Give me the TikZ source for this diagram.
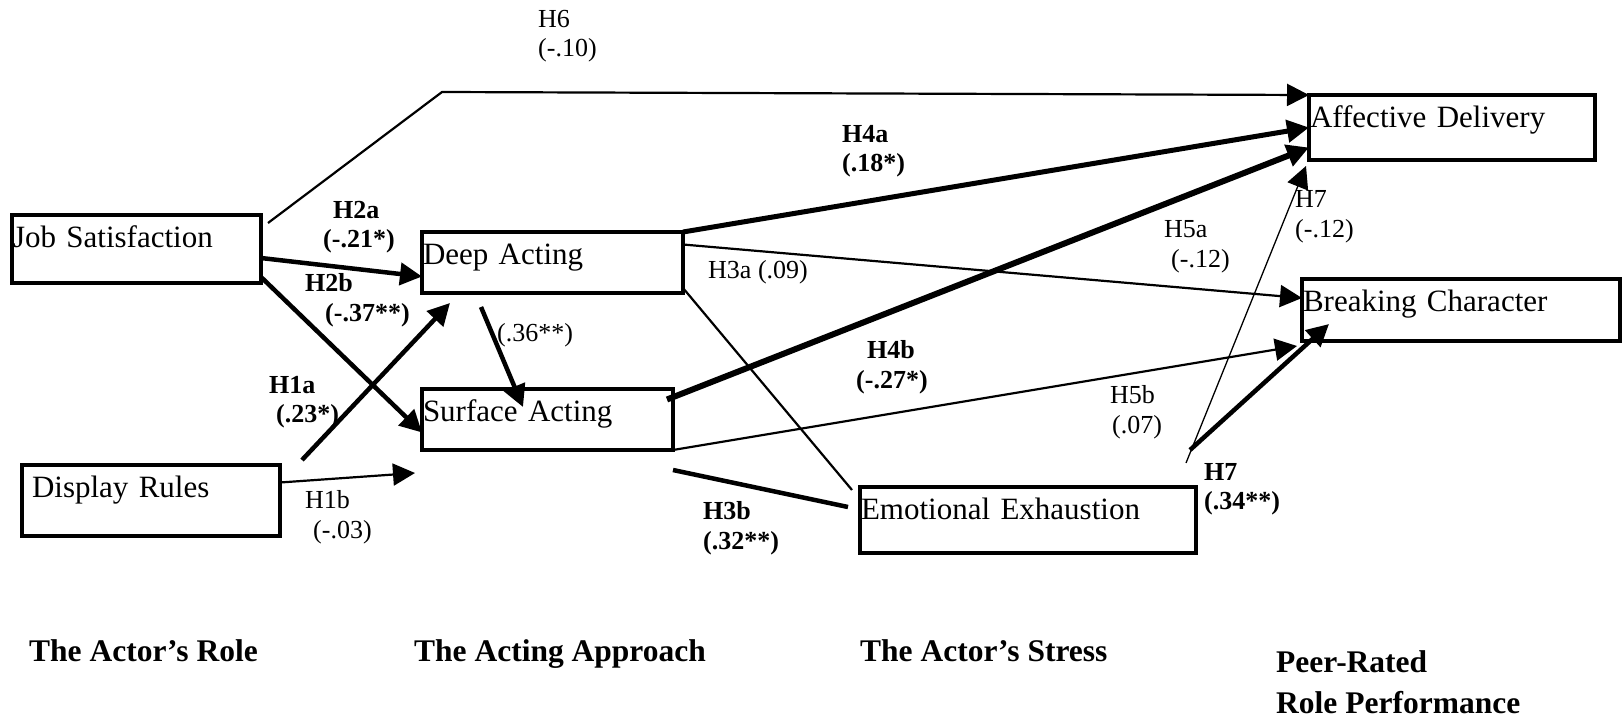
\documentclass[tikz,border=0pt]{standalone}
\usepackage{fontspec}
\setmainfont{Liberation Serif}
\usepackage{tikz}
\usetikzlibrary{arrows.meta, positioning}
\tikzset{
	construct/.style={draw, line width=4.5pt, anchor=north west, outer sep=0pt, inner xsep=1pt, inner ysep=6pt, align=left, text height=26pt, font=\fontsize{31}{34}\selectfont}
}
\tikzset{
	hyptext/.style={anchor=west, inner sep=0pt, align=left, font=\fontsize{26}{29.5}\selectfont}
}
\tikzset{
	boldhyp/.style={hyptext, font=\fontsize{26}{29.5}\selectfont\bfseries}
}
\tikzset{
	headtext/.style={anchor=base west, inner sep=0pt, align=left, font=\fontsize{31.5}{41}\selectfont\bfseries}
}
\tikzset{
	weakpath/.style={line width=2.2pt},
	strongpath/.style={line width=4.5pt}
}

\begin{document}
\begin{tikzpicture}[x=1pt, y=-1pt, >={Triangle[length=22pt, width=22pt]}]
  \useasboundingbox (0,0) rectangle (1623,720);
  \node[construct, text width=247pt, text depth=30pt] (js) at (12,215) {Job Satisfaction};
  \node[construct, inner xsep=10pt, text width=238pt, text depth=33pt] (dr) at (22,465) {Display Rules};
  \node[construct, text width=259pt, text depth=23pt] (da) at (422,232) {Deep Acting};
  \node[construct, text width=249pt, text depth=23pt] (sa) at (422,389) {Surface Acting};
  \node[construct, text width=284pt, text depth=27pt] (ad) at (1309,95) {Affective Delivery};
  \node[construct, text width=316pt, text depth=24pt] (bc) at (1302,279) {Breaking Character};
  \node[construct, text width=334pt, text depth=28pt] (ee) at (860,487) {Emotional Exhaustion};
  \coordinate (h6bend) at (442,92);
  \coordinate (h1bend) at (415,473);
  \coordinate (h7src) at (1190,450);
  \draw[weakpath, ->] ([shift={(7,8)}]js.north east) -- (h6bend) -- (ad.north west);
  \draw[strongpath, ->] ([shift={(0,9)}]js.east) -- ([shift={(0,14)}]da.west);
  \draw[strongpath, ->] ([shift={(0,-6)}]js.south east) -- ([shift={(0,13)}]sa.west);
  \draw[strongpath, ->] ([shift={(22,-5)}]dr.north east) -- ([shift={(28,10)}]da.south west);
  \draw[weakpath, ->] ([shift={(0,-18)}]dr.east) -- (h1bend);
  \draw[strongpath, ->] ([shift={(59,14)}]da.south west) -- ([shift={(101,18)}]sa.north west);
  \draw[strongpath, line width=5pt, ->] (da.north east) -- (ad.west);
  \draw[weakpath, ->] ([shift={(0,-18)}]da.east) -- ([shift={(0,-12)}]bc.west);
  \draw[weakpath] ([shift={(0,-5)}]da.south east) -- ([shift={(-8,3)}]ee.north west);
  \draw[strongpath, line width=6pt, ->] ([shift={(-6,-20)}]sa.east) -- ([shift={(0,20)}]ad.west);
  \draw[weakpath, ->] (sa.south east) -- ([shift={(-5,5)}]bc.south west);
  \draw[strongpath] ([shift={(0,20)}]sa.south east) -- ([shift={(-12,-13)}]ee.west);
  \draw[strongpath, ->] (h7src) -- ([shift={(27,-17)}]bc.south west);
  \draw[weakpath, line width=1.3pt, ->] ([shift={(-4,13)}]h7src) -- ([shift={(-3,6)}]ad.south west);
  \node[hyptext] (h6lab) at (538,36) {H6\\(-.10)};
  \node[boldhyp] (h4alab) at (842,151) {H4a\\(.18*)};
  \node[boldhyp] (h2alab) at (323,227) {\hspace*{10pt}H2a\\(-.21*)};
  \node[boldhyp] (h2blab) at (305,300) {H2b\\\hspace*{20pt}(-.37**)};
  \node[hyptext] (h3alab) at (708,272) {H3a (.09)};
  \node[hyptext] (dasalab) at (497,335) {(.36**)};
  \node[hyptext] (h5alab) at (1164,247) {H5a\\\hspace*{7pt}(-.12)};
  \node[hyptext] (h7alab) at (1295,217) {H7\\(-.12)};
  \node[boldhyp] (h4blab) at (856,367) {\hspace*{11pt}H4b\\(-.27*)};
  \node[boldhyp] (h1alab) at (269,402) {H1a\\\hspace*{7pt}(.23*)};
  \node[hyptext] (h1blab) at (305,517) {H1b\\\hspace*{8pt}(-.03)};
  \node[hyptext] (h5blab) at (1110,412) {H5b\\\hspace*{2pt}(.07)};
  \node[boldhyp] (h3blab) at (703,528) {H3b\\(.32**)};
  \node[boldhyp] (h7blab) at (1204,489) {H7\\(.34**)};
  \node[headtext] (rolehead) at (29,661) {The Actor’s Role};
  \node[headtext] (approachhead) at (414,661) {The Acting Approach};
  \node[headtext] (stresshead) at (860,661) {The Actor’s Stress};
  \node[headtext, anchor=west] (perfhead) at (1276,682) {Peer-Rated\\Role Performance};
\end{tikzpicture}
\end{document}
